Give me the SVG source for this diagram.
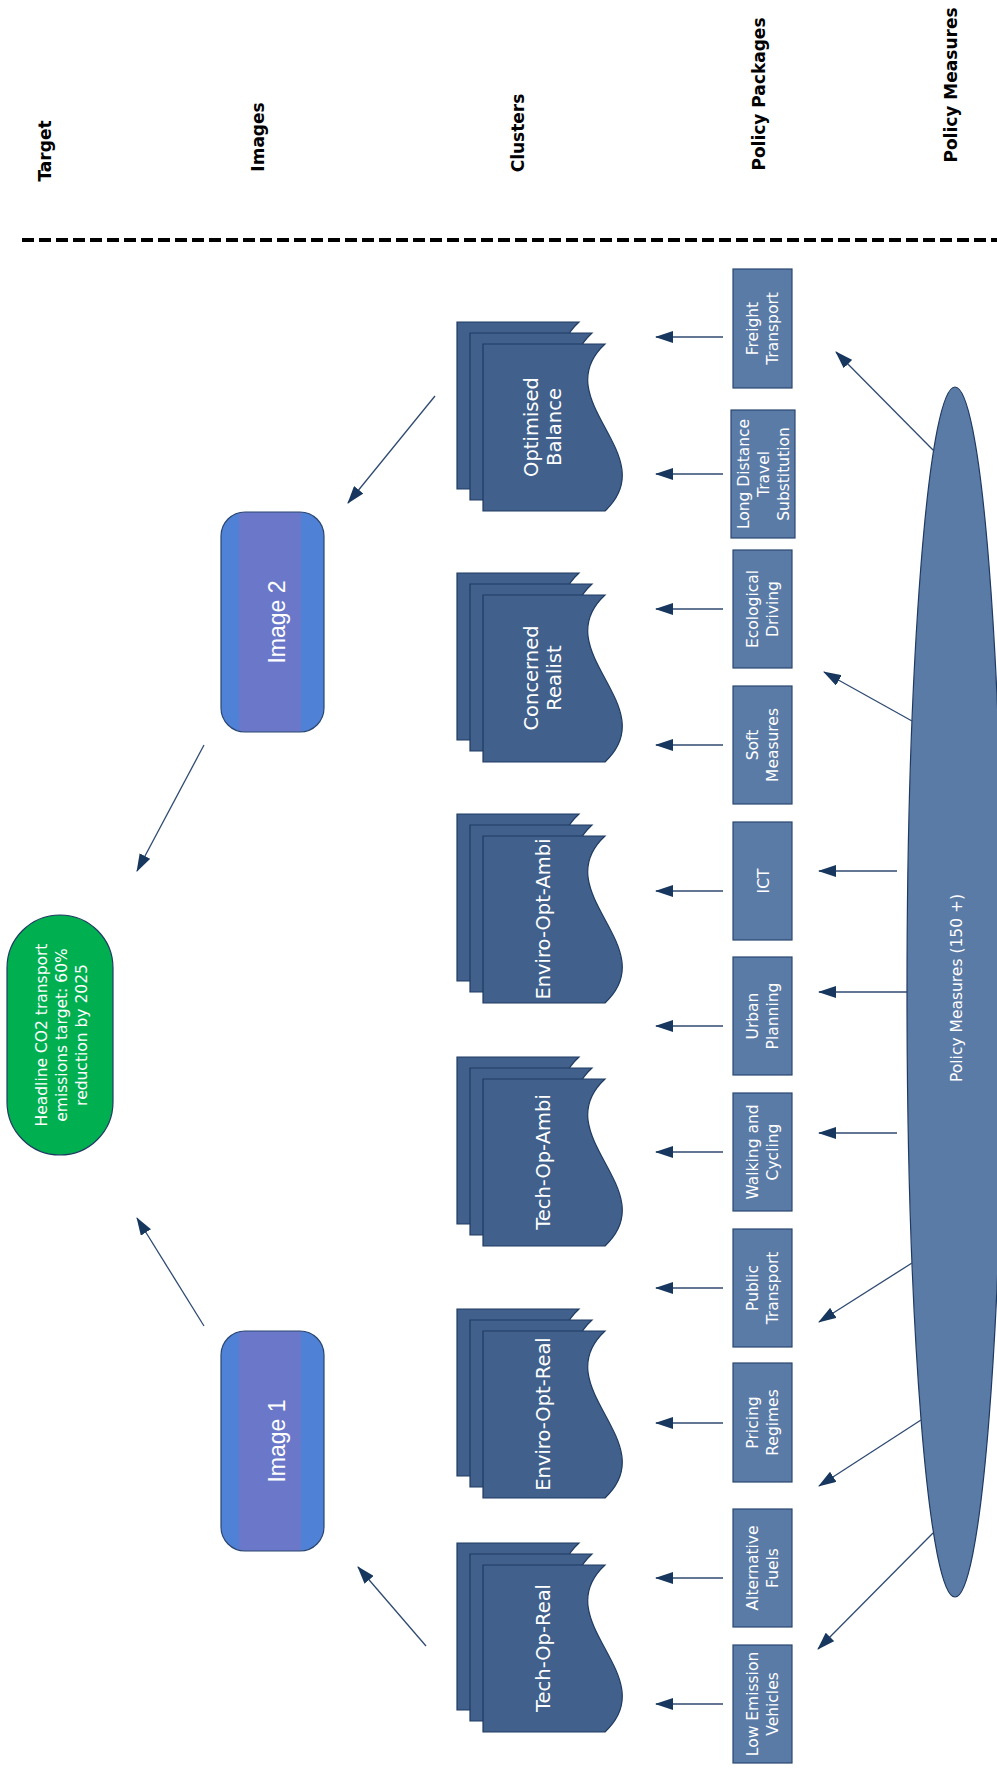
<svg xmlns="http://www.w3.org/2000/svg" xmlns:xlink="http://www.w3.org/1999/xlink" width="997" height="1769" viewBox="0 0 997 1769">
<style>
.hdr{font-family:"DejaVu Sans",Verdana,sans-serif;font-weight:bold;font-size:17px;fill:#000;text-anchor:middle;dominant-baseline:central}
.pkg rect{fill:#5B7BA7;stroke:#2A4670;stroke-width:1.2}
.pkgt{font-family:"DejaVu Sans",Verdana,sans-serif;font-size:15.5px;fill:#fff;text-anchor:middle;dominant-baseline:central}
.sheet{fill:#41618C;stroke:#1F3A62;stroke-width:1.2}
.clt{font-family:"DejaVu Sans",Verdana,sans-serif;font-size:19.5px;fill:#fff;text-anchor:middle;dominant-baseline:central}
.img rect{fill:url(#imgGrad);stroke:#2A4670;stroke-width:1.2}
.imgt{font-family:"Liberation Sans",Arial,sans-serif;font-size:23px;fill:#fff;text-anchor:middle;dominant-baseline:central}
.conn line{stroke:#2F4A72;stroke-width:1.3;marker-end:url(#ah)}
</style>
<defs>
<marker id="ah" markerUnits="userSpaceOnUse" markerWidth="18" markerHeight="12" viewBox="0 0 18 12" refX="17" refY="6" orient="auto">
<path d="M0,0 L18,6 L0,12 Z" fill="#17375E"/>
</marker>
<linearGradient id="imgGrad" x1="0" y1="0" x2="1" y2="0">
<stop offset="0" stop-color="#4F81D6"/>
<stop offset="0.175" stop-color="#4F81D6"/>
<stop offset="0.175" stop-color="#6B78C9"/>
<stop offset="0.777" stop-color="#6B78C9"/>
<stop offset="0.777" stop-color="#4F81D6"/>
<stop offset="1" stop-color="#4F81D6"/>
</linearGradient>
<path id="sheet" d="M0,0 H122 C62,56 182,111 122,167 H0 Z"/>
<g id="stack">
<use xlink:href="#sheet" class="sheet"/>
<use xlink:href="#sheet" class="sheet" x="13" y="11"/>
<use xlink:href="#sheet" class="sheet" x="26" y="22"/>
</g>
</defs>
<rect width="997" height="1769" fill="#fff"/>

<g id="headers">
<text class="hdr" transform="translate(45,151) rotate(-90)">Target</text>
<text class="hdr" transform="translate(258,137) rotate(-90)">Images</text>
<text class="hdr" transform="translate(518,133) rotate(-90)">Clusters</text>
<text class="hdr" transform="translate(759,94) rotate(-90)">Policy Packages</text>
<text class="hdr" transform="translate(951,85) rotate(-90)">Policy Measures</text>
</g>
<line id="divider" x1="22" y1="240" x2="997" y2="240" stroke="#000" stroke-width="4" stroke-dasharray="12,5"/>

<g id="target">
<rect x="7" y="915" width="106" height="240" rx="53" ry="53" fill="#00B050" stroke="#1F3A62" stroke-width="1.2"/>
<text class="pkgt" font-size="16" transform="translate(62,1035) rotate(-90)"><tspan x="0" y="-20">Headline CO2 transport</tspan><tspan x="0" y="0">emissions target: 60%</tspan><tspan x="0" y="20">reduction by 2025</tspan></text>
</g>

<g id="image2" class="img">
<rect x="221" y="512" width="103" height="220" rx="24" ry="24"/>
<text class="imgt" transform="translate(277,622) rotate(-90)">Image 2</text>
</g>
<g id="image1" class="img">
<rect x="221" y="1331" width="103" height="220" rx="24" ry="24"/>
<text class="imgt" transform="translate(277,1441) rotate(-90)">Image 1</text>
</g>

<g id="cluster-optimised-balance">
<use xlink:href="#stack" x="457" y="322"/>
<text class="clt" transform="translate(542,427) rotate(-90)"><tspan x="0" y="-11.5">Optimised</tspan><tspan x="0" y="11.5">Balance</tspan></text>
</g>
<g id="cluster-concerned-realist">
<use xlink:href="#stack" x="457" y="573"/>
<text class="clt" transform="translate(542,678) rotate(-90)"><tspan x="0" y="-11.5">Concerned</tspan><tspan x="0" y="11.5">Realist</tspan></text>
</g>
<g id="cluster-enviro-opt-ambi">
<use xlink:href="#stack" x="457" y="814"/>
<text class="clt" transform="translate(543,919) rotate(-90)">Enviro-Opt-Ambi</text>
</g>
<g id="cluster-tech-op-ambi">
<use xlink:href="#stack" x="457" y="1057"/>
<text class="clt" transform="translate(543,1162) rotate(-90)">Tech-Op-Ambi</text>
</g>
<g id="cluster-enviro-opt-real">
<use xlink:href="#stack" x="457" y="1309"/>
<text class="clt" transform="translate(543,1414) rotate(-90)">Enviro-Opt-Real</text>
</g>
<g id="cluster-tech-op-real">
<use xlink:href="#stack" x="457" y="1543"/>
<text class="clt" transform="translate(543,1648) rotate(-90)">Tech-Op-Real</text>
</g>

<g id="pkg-freight" class="pkg">
<rect x="733" y="269" width="59" height="119"/>
<text class="pkgt" transform="translate(763,328.5) rotate(-90)"><tspan x="0" y="-10">Freight</tspan><tspan x="0" y="10">Transport</tspan></text>
</g>
<g id="pkg-long-distance" class="pkg">
<rect x="731" y="410" width="64" height="128"/>
<text class="pkgt" transform="translate(764,474) rotate(-90)"><tspan x="0" y="-20">Long Distance</tspan><tspan x="0" y="0">Travel</tspan><tspan x="0" y="20">Substitution</tspan></text>
</g>
<g id="pkg-ecological" class="pkg">
<rect x="733" y="550" width="59" height="118"/>
<text class="pkgt" transform="translate(763,609) rotate(-90)"><tspan x="0" y="-10">Ecological</tspan><tspan x="0" y="10">Driving</tspan></text>
</g>
<g id="pkg-soft" class="pkg">
<rect x="733" y="686" width="59" height="118"/>
<text class="pkgt" transform="translate(763,745) rotate(-90)"><tspan x="0" y="-10">Soft</tspan><tspan x="0" y="10">Measures</tspan></text>
</g>
<g id="pkg-ict" class="pkg">
<rect x="733" y="822" width="59" height="118"/>
<text class="pkgt" transform="translate(764,881) rotate(-90)">ICT</text>
</g>
<g id="pkg-urban" class="pkg">
<rect x="733" y="957" width="59" height="118"/>
<text class="pkgt" transform="translate(763,1016) rotate(-90)"><tspan x="0" y="-10">Urban</tspan><tspan x="0" y="10">Planning</tspan></text>
</g>
<g id="pkg-walking" class="pkg">
<rect x="733" y="1093" width="59" height="118"/>
<text class="pkgt" transform="translate(763,1152) rotate(-90)"><tspan x="0" y="-10">Walking and</tspan><tspan x="0" y="10">Cycling</tspan></text>
</g>
<g id="pkg-public" class="pkg">
<rect x="733" y="1229" width="59" height="118"/>
<text class="pkgt" transform="translate(763,1288) rotate(-90)"><tspan x="0" y="-10">Public</tspan><tspan x="0" y="10">Transport</tspan></text>
</g>
<g id="pkg-pricing" class="pkg">
<rect x="733" y="1363" width="59" height="119"/>
<text class="pkgt" transform="translate(763,1422.5) rotate(-90)"><tspan x="0" y="-10">Pricing</tspan><tspan x="0" y="10">Regimes</tspan></text>
</g>
<g id="pkg-alt-fuels" class="pkg">
<rect x="733" y="1509" width="59" height="118"/>
<text class="pkgt" transform="translate(763,1568) rotate(-90)"><tspan x="0" y="-10">Alternative</tspan><tspan x="0" y="10">Fuels</tspan></text>
</g>
<g id="pkg-low-emission" class="pkg">
<rect x="733" y="1645" width="59" height="118"/>
<text class="pkgt" transform="translate(763,1704) rotate(-90)"><tspan x="0" y="-10">Low Emission</tspan><tspan x="0" y="10">Vehicles</tspan></text>
</g>

<g id="policy-measures">
<ellipse cx="955" cy="992" rx="48" ry="605" fill="#5B7BA7" stroke="#1F3A62" stroke-width="1.2"/>
<text class="pkgt" font-size="16" transform="translate(957,988) rotate(-90)">Policy Measures (150 +)</text>
</g>

<g id="connectors" class="conn">
<line x1="435" y1="396" x2="348" y2="503"/>
<line x1="204" y1="745" x2="137" y2="871"/>
<line x1="204" y1="1326" x2="137" y2="1218"/>
<line x1="426" y1="1646" x2="358" y2="1567"/>
<line x1="723" y1="337" x2="656" y2="337"/>
<line x1="723" y1="474" x2="656" y2="474"/>
<line x1="723" y1="609" x2="656" y2="609"/>
<line x1="723" y1="745" x2="656" y2="745"/>
<line x1="723" y1="891" x2="656" y2="891"/>
<line x1="723" y1="1026" x2="656" y2="1026"/>
<line x1="723" y1="1152" x2="656" y2="1152"/>
<line x1="723" y1="1288" x2="656" y2="1288"/>
<line x1="723" y1="1423" x2="656" y2="1423"/>
<line x1="723" y1="1578" x2="656" y2="1578"/>
<line x1="723" y1="1704" x2="656" y2="1704"/>
<line x1="934" y1="451" x2="836" y2="352"/>
<line x1="912" y1="721" x2="824" y2="672"/>
<line x1="897" y1="871" x2="819" y2="871"/>
<line x1="907" y1="992" x2="819" y2="992"/>
<line x1="897" y1="1133" x2="819" y2="1133"/>
<line x1="912" y1="1263" x2="819" y2="1322"/>
<line x1="921" y1="1420" x2="819" y2="1486"/>
<line x1="933" y1="1533" x2="818" y2="1649"/>
</g>
</svg>
